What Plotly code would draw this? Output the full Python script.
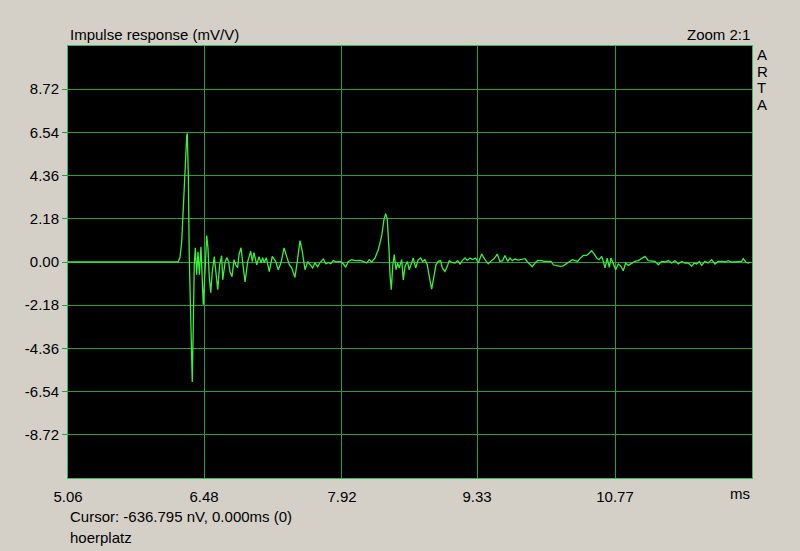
import plotly.graph_objects as go

# impulse response (time in ms, amplitude in mV/V)
T_MS = [
    5.060, 6.208, 6.229, 6.247, 6.264, 6.281, 6.299, 6.305, 6.316, 6.326,
    6.341, 6.351, 6.357, 6.368, 6.378, 6.389, 6.403, 6.417, 6.431, 6.448,
    6.462, 6.472, 6.490, 6.508, 6.521, 6.535, 6.550, 6.566, 6.587, 6.605,
    6.623, 6.643, 6.664, 6.675, 6.699, 6.717, 6.737, 6.751, 6.772, 6.793,
    6.810, 6.831, 6.845, 6.866, 6.884, 6.908, 6.936, 6.967, 6.984, 7.001,
    7.030, 7.054, 7.075, 7.092, 7.109, 7.130, 7.161, 7.192, 7.228, 7.255,
    7.283, 7.315, 7.343, 7.370, 7.395, 7.429, 7.453, 7.482, 7.506, 7.534,
    7.562, 7.586, 7.614, 7.638, 7.666, 7.690, 7.725, 7.753, 7.777, 7.802,
    7.829, 7.865, 7.899, 7.934, 7.959, 7.986, 8.021, 8.056, 8.108, 8.142,
    8.178, 8.205, 8.230, 8.264, 8.299, 8.334, 8.358, 8.376, 8.393, 8.411,
    8.421, 8.435, 8.449, 8.466, 8.484, 8.501, 8.518, 8.543, 8.560, 8.578,
    8.602, 8.622, 8.648, 8.664, 8.689, 8.716, 8.741, 8.762, 8.786, 8.810,
    8.831, 8.856, 8.880, 8.901, 8.925, 8.950, 8.967, 8.995, 9.019, 9.040,
    9.065, 9.100, 9.128, 9.152, 9.176, 9.204, 9.228, 9.256, 9.284, 9.316,
    9.343, 9.378, 9.413, 9.447, 9.483, 9.510, 9.541, 9.569, 9.597, 9.621,
    9.650, 9.674, 9.698, 9.726, 9.760, 9.796, 9.830, 9.858, 9.882, 9.906,
    9.935, 9.963, 9.997, 10.032, 10.067, 10.102, 10.126, 10.161, 10.195, 10.230,
    10.265, 10.300, 10.324, 10.352, 10.380, 10.404, 10.439, 10.474, 10.501, 10.526,
    10.554, 10.579, 10.603, 10.631, 10.648, 10.665, 10.689, 10.710, 10.728, 10.752,
    10.777, 10.804, 10.832, 10.856, 10.881, 10.908, 10.944, 10.978, 11.013, 11.048,
    11.083, 11.117, 11.153, 11.187, 11.222, 11.257, 11.291, 11.326, 11.361, 11.396,
    11.430, 11.466, 11.500, 11.535, 11.570, 11.597, 11.622, 11.650, 11.675, 11.709,
    11.743, 11.779, 11.813, 11.848, 11.883, 11.918, 11.952, 11.988, 12.022, 12.057,
    12.092, 12.109, 12.134, 12.161, 12.186,
]
AMP = [
    0.00, 0.00, 0.22, 1.03, 2.75, 4.77, 6.34, 6.49, 4.42, 0.22,
    -2.31, -4.54, -6.06, -3.17, -0.14, 0.72, -0.64, 0.52, -0.64, 0.77,
    -1.00, -2.16, -0.49, 1.33, 0.72, -0.79, -1.55, -0.49, 0.27, -0.49,
    -1.40, -0.14, 0.32, -0.90, -0.04, 0.22, 0.02, -0.49, -0.74, 0.12,
    -0.14, -0.29, 0.37, 0.72, -0.14, -1.00, 0.02, 0.54, 0.02, 0.47,
    -0.14, 0.27, -0.04, 0.22, -0.04, 0.22, -0.48, 0.28, 0.02, -0.39,
    -0.04, 0.71, 0.27, -0.14, -0.29, -0.78, 0.02, 1.08, 0.52, -0.39,
    0.02, -0.14, -0.30, -0.04, -0.24, -0.04, 0.15, -0.09, -0.02, -0.09,
    0.07, 0.00, 0.03, -0.09, -0.27, 0.03, 0.12, 0.07, 0.08, 0.03,
    -0.05, 0.12, 0.00, 0.20, 0.62, 1.30, 2.14, 2.44, 2.14, 0.62,
    -0.64, -1.40, -0.22, 0.37, -0.39, -0.05, -0.30, 0.12, -0.90, -0.22,
    0.03, -0.39, 0.03, 0.20, -0.30, 0.12, 0.20, 0.03, 0.12, -0.14,
    -0.73, -1.37, -0.73, -0.14, 0.03, 0.07, -0.30, -0.48, -0.22, 0.07,
    -0.02, -0.05, 0.07, -0.10, 0.07, 0.20, 0.08, 0.20, 0.12, 0.20,
    -0.05, 0.40, 0.12, -0.09, 0.08, 0.17, 0.40, 0.03, 0.07, 0.33,
    0.03, 0.20, 0.07, 0.15, 0.10, 0.12, 0.17, 0.00, -0.10, -0.24,
    -0.05, 0.08, 0.07, 0.03, 0.03, 0.03, -0.14, -0.19, -0.22, -0.19,
    -0.09, 0.03, 0.12, 0.07, 0.03, 0.17, 0.33, 0.33, 0.46, 0.57,
    0.40, 0.20, 0.12, 0.28, 0.03, -0.30, 0.20, -0.27, 0.20, -0.05,
    -0.39, -0.10, -0.22, -0.44, -0.05, -0.17, -0.05, 0.03, 0.07, 0.17,
    0.28, 0.07, 0.03, 0.03, -0.14, 0.03, 0.00, 0.07, -0.05, 0.07,
    -0.10, 0.03, -0.05, -0.05, -0.22, -0.05, -0.10, 0.03, -0.17, 0.03,
    -0.05, 0.12, -0.10, 0.03, 0.03, 0.00, 0.07, 0.00, 0.00, 0.03,
    0.03, 0.17, 0.00, -0.05, 0.00,
]

X_TICKS = [5.06, 6.48, 7.92, 9.33, 10.77]
Y_TICKS = [-8.72, -6.54, -4.36, -2.18, 0.00, 2.18, 4.36, 6.54, 8.72]

X_RANGE = [5.06, 12.2]
Y_RANGE = [-10.9, 10.9]

# --- colours / fonts (old windows look) ---
paper = "#D4D0C8"
grid = "#22A042"
border = "#3DB45E"
trace_col = "#3BEF3B"
font = dict(family="Liberation Sans, Arial, sans-serif", size=15, color="#000000")

fig = go.Figure()
fig.add_trace(go.Scatter(
    x=T_MS, y=AMP, mode="lines",
    line=dict(color=trace_col, width=1.3),
    hoverinfo="skip", showlegend=False,
))

fig.update_layout(
    width=800, height=551,
    paper_bgcolor=paper, plot_bgcolor="#000000",
    font=font,
    margin=dict(l=68, r=48, t=46, b=73),
    showlegend=False,
    xaxis=dict(
        range=X_RANGE, tickvals=X_TICKS, ticktext=[f"{v:.2f}" for v in X_TICKS],
        showgrid=True, gridcolor=grid, gridwidth=1, zeroline=False,
        showline=True, linecolor=border, linewidth=1, mirror=True,
        ticks="outside", ticklen=5, tickcolor="rgba(0,0,0,0)",
    ),
    yaxis=dict(
        range=Y_RANGE, tickvals=Y_TICKS, ticktext=[f"{v:.2f}" for v in Y_TICKS],
        showgrid=True, gridcolor=grid, gridwidth=1, zeroline=False,
        showline=True, linecolor=border, linewidth=1, mirror=True,
        ticks="outside", ticklen=5, tickcolor=grid,
    ),
)

ann = dict(xref="paper", yref="paper", showarrow=False, font=font)
fig.add_annotation(text="Impulse response (mV/V)", x=0, y=1, xanchor="left",
                   yanchor="bottom", yshift=1, **ann)
fig.add_annotation(text="Zoom 2:1", x=1, y=1, xanchor="right",
                   yanchor="bottom", yshift=1, **ann)
# vertical ARTA logo, one letter per line
for i, ch in enumerate("ARTA"):
    fig.add_annotation(text=ch, x=1, y=1, xanchor="left", yanchor="top",
                       xshift=3, yshift=2 - i * 16.5, **ann)
fig.add_annotation(text="ms", x=1, y=0, xanchor="right",
                   yanchor="top", yshift=-5, **ann)
fig.add_annotation(text="Cursor: -636.795 nV, 0.000ms (0)", x=0, y=0,
                   xanchor="left", yanchor="top", yshift=-28, **ann)
fig.add_annotation(text="hoerplatz", x=0, y=0, xanchor="left",
                   yanchor="top", yshift=-49, **ann)

# page body has a default margin; drop it so the figure sits at 0,0
fig.write_html("out.html", config={"displayModeBar": False},
               post_script="document.body.style.margin='0';")
